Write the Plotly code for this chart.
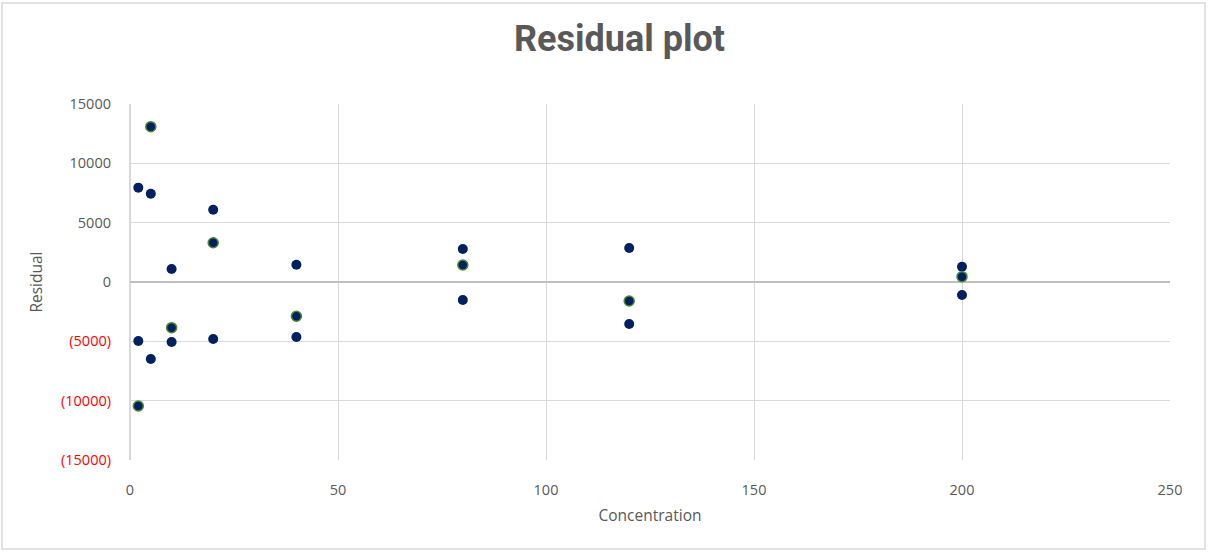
import plotly.graph_objects as go

# Residuals: two navy replicates per concentration
conc_a = [2, 2, 5, 5, 10, 10, 20, 20, 40, 40, 80, 80, 120, 120, 200, 200]
resid_a = [7950, -4970, 7440, -6490, 1100, -5060, 6090, -4800, 1460, -4640,
           2780, -1520, 2870, -3540, 1290, -1100]

# Residuals: third replicate (green-outlined markers)
conc_b = [2, 5, 10, 20, 40, 80, 120, 200]
resid_b = [-10450, 13090, -3850, 3310, -2890, 1430, -1600, 450]

y_tickvals = [15000, 10000, 5000, 0, -5000, -10000, -15000]
x_tickvals = [0, 50, 100, 150, 200, 250]


def fmt(v):
    if v < 0:
        return "<span style='color:#FF0000'>(%d)</span>" % (-v)
    return str(v)


y_ticktext = [fmt(v) for v in y_tickvals]

fig = go.Figure()
fig.add_trace(go.Scatter(
    x=conc_a, y=resid_a, mode="markers",
    marker=dict(size=10, color="#002060", line=dict(width=0)),
    showlegend=False))
fig.add_trace(go.Scatter(
    x=conc_b, y=resid_b, mode="markers",
    marker=dict(size=10, color="#002060", line=dict(width=1.5, color="#4A8A35")),
    showlegend=False))

font_main = "Open Sans, Liberation Sans, Arial, sans-serif"
fig.update_layout(
    width=1208, height=552,
    paper_bgcolor="white", plot_bgcolor="white",
    margin=dict(l=130, r=38, t=104, b=92),
    title=dict(text="<b>Residual plot</b>", x=619.5 / 1208, xanchor="center",
               y=1 - 38 / 552, yanchor="middle",
               font=dict(family="Liberation Sans Narrow, Roboto, sans-serif",
                         size=36, color="#595959")),
    font=dict(family=font_main, size=14.5, color="#595959"),
    xaxis=dict(range=[0, 250], tickvals=x_tickvals, showgrid=True,
               gridcolor="#D9D9D9", gridwidth=1,
               zeroline=True, zerolinecolor="#D9D9D9", zerolinewidth=1.5,
               showline=False, ticks="", ticklabelstandoff=19,
               title=dict(text="Concentration", standoff=12,
                          font=dict(size=15.5, color="#595959"))),
    yaxis=dict(range=[-15000, 15000], tickvals=y_tickvals, ticktext=y_ticktext,
               showgrid=True, gridcolor="#D9D9D9", gridwidth=1,
               zeroline=True, zerolinecolor="#BFBFBF", zerolinewidth=1.5,
               showline=False, ticks="", ticklabelstandoff=18,
               title=dict(text="Residual", standoff=14,
                          font=dict(size=15.5, color="#595959"))),
    shapes=[dict(type="rect", xref="paper", yref="paper",
                 x0=-128 / 1040, x1=1 + 35 / 1040,
                 y0=-89 / 356, y1=1 + 101 / 356,
                 line=dict(color="#D9D9D9", width=1.5), layer="below")],
)

fig.write_html("out.html", config={"displayModeBar": False},
               post_script="document.body.style.margin='0';document.body.style.padding='0';")
